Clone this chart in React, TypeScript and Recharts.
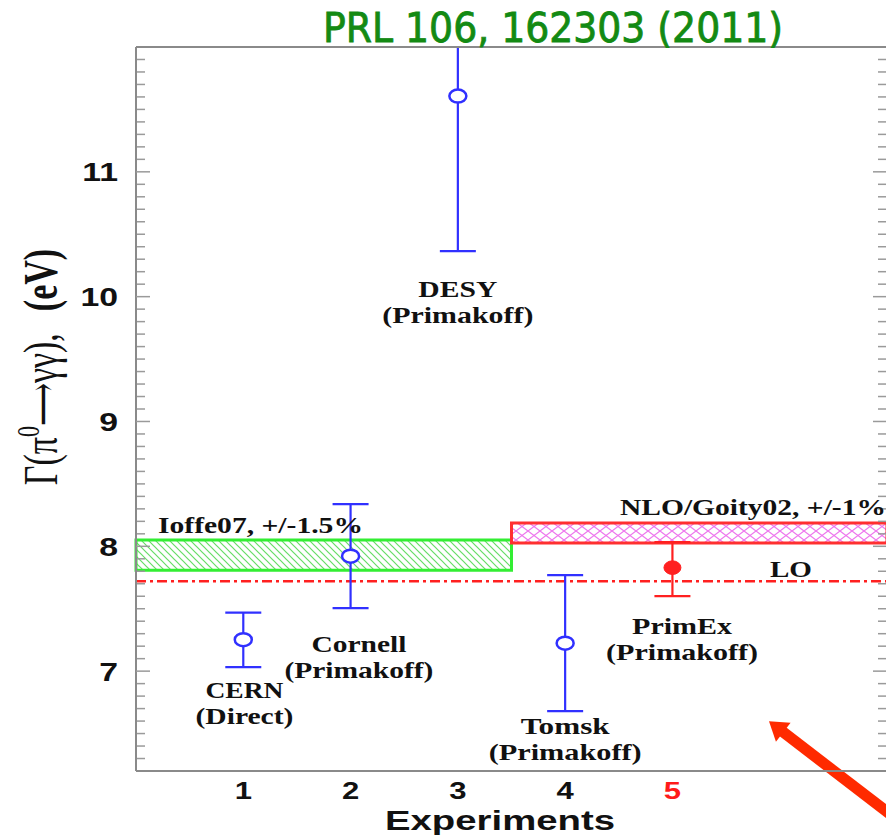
import React from "react";
import {
  ComposedChart,
  Scatter,
  XAxis,
  YAxis,
  ErrorBar,
  ReferenceArea,
  ReferenceLine,
  ReferenceDot,
} from "recharts";

// ---------- data ----------
const experimentX = [1, 2, 3, 4];
const experimentWidth = [7.252, 7.921, 11.607, 7.224];
const experimentLower = [7.032, 7.505, 10.365, 6.68];
const experimentUpper = [7.469, 8.338, 12.0, 7.769];

const primexX = [5];
const primexWidth = [7.829];
const primexLower = [7.601];
const primexUpper = [8.034];

const ioffeBand = [7.809, 8.05]; // low, high
const ioffeRange = [0, 3.5];
const nloBand = [8.026, 8.186];
const nloRange = [3.5, 7];
const loValue = 7.721;

const xTicks = [1, 2, 3, 4, 5];
const highlightedTick = 5;
const xFrameTicks = [1, 2, 3, 4, 5, 6];
const yTicks = [7, 8, 9, 10, 11];
const yMinorTicks = [
  6.3, 6.4, 6.5, 6.6, 6.7, 6.8, 6.9,
  7.1, 7.2, 7.3, 7.4, 7.5, 7.6, 7.7, 7.8, 7.9,
  8.1, 8.2, 8.3, 8.4, 8.5, 8.6, 8.7, 8.8, 8.9,
  9.1, 9.2, 9.3, 9.4, 9.5, 9.6, 9.7, 9.8, 9.9,
  10.1, 10.2, 10.3, 10.4, 10.5, 10.6, 10.7, 10.8, 10.9,
  11.1, 11.2, 11.3, 11.4, 11.5, 11.6, 11.7, 11.8, 11.9,
];

const annotationTexts = [
  ["CERN", "(Direct)"],
  ["Cornell", "(Primakoff)"],
  ["DESY", "(Primakoff)"],
  ["Tomsk", "(Primakoff)"],
  ["PrimEx", "(Primakoff)"],
  ["Ioffe07, +/-1.5%"],
  ["NLO/Goity02, +/-1%"],
  ["LO"],
];

const titleText = "PRL 106, 162303 (2011)";
const xTitle = "Experiments";

// ---------- layout (not data) ----------
const annotationLayout = [
  { x: 1.011, y: 6.85, anchor: "middle", widths: [78, 98] },
  { x: 2.078, y: 7.22, anchor: "middle", widths: [95, 149] },
  { x: 3.0, y: 10.061, anchor: "middle", widths: [79, 151] },
  { x: 4.0, y: 6.56, anchor: "middle", widths: [89, 153] },
  { x: 5.09, y: 7.36, anchor: "middle", widths: [100, 152] },
  { x: 0.205, y: 8.17, anchor: "start", widths: [205] },
  { x: 4.511, y: 8.315, anchor: "start", widths: [266] },
  { x: 5.909, y: 7.817, anchor: "start", widths: [42] },
];
const arrowSegment = [
  { x: 7.587, y: 5.486 },
  { x: 5.9, y: 6.599 },
];

const blueData = experimentX.map((x, i) => ({
  x,
  y: experimentWidth[i],
  err: [experimentWidth[i] - experimentLower[i], experimentUpper[i] - experimentWidth[i]],
}));
const redData = primexX.map((x, i) => ({
  x,
  y: primexWidth[i],
  err: [primexWidth[i] - primexLower[i], primexUpper[i] - primexWidth[i]],
}));

const SANS = "'Liberation Sans', Arial, Helvetica, sans-serif";
const SERIF = "'Liberation Serif', 'Times New Roman', Times, serif";
const BLUE = "#3030ff";
const RED = "#ff2020";
const FRAME = { stroke: "#8a8a8a", strokeWidth: 2 };
const TICKLINE = { stroke: "#9a9a9a", strokeWidth: 1.5 };

const NoTick = () => <g />;

const XTick = (p: any) => {
  const v = p.payload.value;
  return (
    <text
      transform={`translate(${p.x},${p.y + 28}) scale(1.35,1)`}
      textAnchor="middle"
      fontFamily={SANS}
      fontWeight="bold"
      fontSize={23}
      fill={v === highlightedTick ? "#ff1a1a" : "#111"}
    >
      {v}
    </text>
  );
};

const YTick = (p: any) => (
  <text
    transform={`translate(${p.x - 18},${p.y + 9.5}) scale(1.3,1)`}
    textAnchor="end"
    fontFamily={SANS}
    fontWeight="bold"
    fontSize={26}
    fill="#111"
  >
    {p.payload.value}
  </text>
);

const XLabel = (p: any) => {
  const vb = p.viewBox;
  return (
    <text
      x={vb.x + 364 - 115}
      y={vb.y + 59}
      textLength={230}
      lengthAdjust="spacingAndGlyphs"
      fontFamily={SANS}
      fontWeight="bold"
      fontSize={28}
      fill="#111"
    >
      {xTitle}
    </text>
  );
};

const YLabel = (p: any) => {
  const vb = p.viewBox;
  return (
    <text
      transform={`translate(${vb.x - 19},${vb.y + 320}) rotate(-90) scale(1,1.4)`}
      textAnchor="middle"
      fontFamily={SERIF}
      fontSize={34}
      fill="#111"
    >
      <tspan>Γ(π</tspan>
      <tspan dy={-13} fontSize={22}>0</tspan>
      <tspan dy={13} fontFamily="'DejaVu Serif', serif" fontSize={30}>⟶</tspan>
      <tspan>γγ),</tspan>
      <tspan dx={22} fontWeight="bold">(eV)</tspan>
    </text>
  );
};

const OpenCircle = (p: any) => (
  <ellipse cx={p.cx} cy={p.cy} rx={8.5} ry={6.5} fill="#fff" stroke={BLUE} strokeWidth={2.5} />
);
const FilledCircle = (p: any) => (
  <ellipse cx={p.cx} cy={p.cy} rx={8.5} ry={6.8} fill={RED} stroke={RED} strokeWidth={1} />
);

const makeAnnotation = (lines: string[], layout: any) => (p: any) => (
  <g>
    {lines.map((t, i) => {
      const w = layout.widths[i];
      const x = layout.anchor === "middle" ? p.cx - w / 2 : p.cx;
      return (
        <text
          key={i}
          x={x}
          y={p.cy + 8 + i * 26}
          textLength={w}
          lengthAdjust="spacingAndGlyphs"
          fontFamily={SERIF}
          fontWeight="bold"
          fontSize={24}
          fill="#111"
        >
          {t}
        </text>
      );
    })}
  </g>
);

const ArrowShape = (p: any) => {
  const { x1, y1, x2, y2 } = p;
  const dx = x2 - x1;
  const dy = y2 - y1;
  const len = Math.sqrt(dx * dx + dy * dy);
  const ux = dx / len;
  const uy = dy / len;
  const headLen = 18;
  const headHalf = 12;
  const bx = x2 - ux * headLen;
  const by = y2 - uy * headLen;
  const px = -uy;
  const py = ux;
  const pts = `${x2},${y2} ${bx + px * headHalf},${by + py * headHalf} ${bx - px * headHalf},${by - py * headHalf}`;
  return (
    <g>
      <line x1={x1} y1={y1} x2={bx + ux * 2} y2={by + uy * 2} stroke="#ff2a00" strokeWidth={11} />
      <polygon points={pts} fill="#ff2a00" />
    </g>
  );
};

export default function App() {
  return (
    <div
      style={{
        position: "absolute",
        left: 0,
        top: 0,
        width: 886,
        height: 835,
        overflow: "hidden",
        background: "#fff",
      }}
    >
      <ComposedChart
        width={890}
        height={835}
        margin={{ top: 47, right: 3, bottom: 0, left: 76 }}
      >
        <defs>
          <pattern id="hatchG" patternUnits="userSpaceOnUse" width={7} height={7}>
            <rect width={7} height={7} fill="#fff" />
            <path d="M-1,-1 L8,8 M-1,6 L1,8 M6,-1 L8,1" stroke="#66dd66" strokeWidth={1.2} />
          </pattern>
          <pattern id="crossP" patternUnits="userSpaceOnUse" width={12} height={9}>
            <rect width={12} height={9} fill="#fff" />
            <path d="M0,0 L12,9 M12,0 L0,9" stroke="#ee77ee" strokeWidth={1.2} />
          </pattern>
        </defs>

        <XAxis
          xAxisId="m"
          dataKey="x"
          type="number"
          domain={[0, 7]}
          allowDataOverflow
          ticks={xTicks}
          interval={0}
          tick={XTick}
          tickLine={false}
          tickSize={0}
          tickMargin={0}
          height={64}
          axisLine={FRAME}
          label={XLabel}
        />
        <XAxis
          xAxisId="bt"
          type="number"
          domain={[0, 7]}
          allowDataOverflow
          orientation="bottom"
          mirror
          height={1}
          ticks={xFrameTicks}
          interval={0}
          tick={NoTick}
          tickSize={14}
          axisLine={false}
          tickLine={TICKLINE}
        />
        <XAxis
          xAxisId="tp"
          type="number"
          domain={[0, 7]}
          allowDataOverflow
          orientation="top"
          mirror
          height={1}
          ticks={xFrameTicks}
          interval={0}
          tick={NoTick}
          tickSize={13}
          axisLine={FRAME}
          tickLine={TICKLINE}
        />

        <YAxis
          yAxisId="m"
          dataKey="y"
          type="number"
          domain={[6.2, 12]}
          allowDataOverflow
          ticks={yTicks}
          interval={0}
          width={60}
          tick={YTick}
          tickLine={false}
          tickSize={0}
          tickMargin={0}
          axisLine={FRAME}
          label={YLabel}
        />
        <YAxis
          yAxisId="lM"
          type="number"
          domain={[6.2, 12]}
          allowDataOverflow
          mirror
          width={1}
          ticks={yTicks}
          interval={0}
          tick={NoTick}
          tickSize={14}
          axisLine={false}
          tickLine={TICKLINE}
        />
        <YAxis
          yAxisId="lm"
          type="number"
          domain={[6.2, 12]}
          allowDataOverflow
          mirror
          width={1}
          ticks={yMinorTicks}
          interval={0}
          tick={NoTick}
          tickSize={8}
          axisLine={false}
          tickLine={TICKLINE}
        />
        <YAxis
          yAxisId="rM"
          type="number"
          domain={[6.2, 12]}
          allowDataOverflow
          orientation="right"
          mirror
          width={1}
          ticks={yTicks}
          interval={0}
          tick={NoTick}
          tickSize={14}
          axisLine={FRAME}
          tickLine={TICKLINE}
        />
        <YAxis
          yAxisId="rm"
          type="number"
          domain={[6.2, 12]}
          allowDataOverflow
          orientation="right"
          mirror
          width={1}
          ticks={yMinorTicks}
          interval={0}
          tick={NoTick}
          tickSize={8}
          axisLine={false}
          tickLine={TICKLINE}
        />

        <ReferenceArea
          xAxisId="m"
          yAxisId="m"
          x1={ioffeRange[0]}
          x2={ioffeRange[1]}
          y1={ioffeBand[0]}
          y2={ioffeBand[1]}
          fill="url(#hatchG)"
          fillOpacity={1}
          stroke="#33ee33"
          strokeWidth={3}
          ifOverflow="visible"
        />
        <ReferenceArea
          xAxisId="m"
          yAxisId="m"
          x1={nloRange[0]}
          x2={nloRange[1]}
          y1={nloBand[0]}
          y2={nloBand[1]}
          fill="url(#crossP)"
          fillOpacity={1}
          stroke="#ff3030"
          strokeWidth={3}
          ifOverflow="visible"
        />
        <ReferenceLine
          xAxisId="m"
          yAxisId="m"
          y={loValue}
          stroke={RED}
          strokeWidth={2.5}
          strokeDasharray="10 4 3 4"
        />

        <Scatter
          xAxisId="m"
          yAxisId="m"
          data={blueData}
          dataKey="y"
          shape={OpenCircle}
          isAnimationActive={false}
        >
          <ErrorBar dataKey="err" direction="y" width={18} stroke={BLUE} strokeWidth={2.2} isAnimationActive={false} />
        </Scatter>
        <Scatter
          xAxisId="m"
          yAxisId="m"
          data={redData}
          dataKey="y"
          shape={FilledCircle}
          isAnimationActive={false}
        >
          <ErrorBar dataKey="err" direction="y" width={18} stroke={RED} strokeWidth={2.2} isAnimationActive={false} />
        </Scatter>

        {annotationTexts.map((lines, i) => (
          <ReferenceDot
            key={i}
            xAxisId="m"
            yAxisId="m"
            x={annotationLayout[i].x}
            y={annotationLayout[i].y}
            r={1}
            ifOverflow="visible"
            shape={makeAnnotation(lines, annotationLayout[i])}
          />
        ))}

        <ReferenceLine
          xAxisId="m"
          yAxisId="m"
          segment={arrowSegment}
          ifOverflow="visible"
          shape={ArrowShape}
        />
      </ComposedChart>

      <svg
        width={886}
        height={60}
        style={{ position: "absolute", left: 0, top: 0, pointerEvents: "none" }}
      >
        <text
          x={323}
          y={42}
          textLength={460}
          lengthAdjust="spacingAndGlyphs"
          fontFamily="'DejaVu Sans Condensed', 'DejaVu Sans', sans-serif"
          fontSize={41}
          fill="#138a13"
          stroke="#138a13"
          strokeWidth={0.8}
        >
          {titleText}
        </text>
      </svg>
    </div>
  );
}
